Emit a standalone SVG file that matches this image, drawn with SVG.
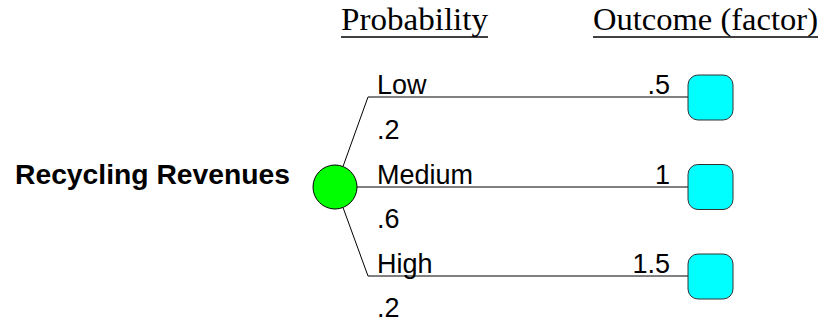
<svg xmlns="http://www.w3.org/2000/svg" width="830" height="321" viewBox="0 0 830 321">
<style>
.hdr{font-family:"Liberation Serif","Times New Roman",serif;font-size:31px;fill:#000}
.lbl{font-family:"Liberation Sans",Arial,sans-serif;font-size:27px;fill:#000}
.title{font-family:"Liberation Sans",Arial,sans-serif;font-size:28px;font-weight:bold;fill:#000}
.ul{stroke:#000;stroke-width:1.5}
.br{fill:none;stroke:#000;stroke-width:1}
.term{fill:#00FFFF;stroke:#333;stroke-width:1}
.chance{fill:#00FF00;stroke:#000;stroke-width:1}
</style>
<rect width="830" height="321" fill="#fff"/>
<g id="headers">
<text class="hdr" x="341" y="30" textLength="147" lengthAdjust="spacingAndGlyphs">Probability</text>
<line class="ul" x1="341" y1="37" x2="488" y2="37"/>
<text class="hdr" x="593" y="30" textLength="225" lengthAdjust="spacingAndGlyphs">Outcome (factor)</text>
<line class="ul" x1="593" y1="37" x2="818" y2="37"/>
</g>
<g id="connectors">
<polyline class="br" points="343,166.5 368,97 688,97"/>
<line class="br" x1="357" y1="187" x2="688" y2="187"/>
<polyline class="br" points="343,207.5 368,276 688,276"/>
</g>
<g id="chance-node">
<text class="title" x="15" y="184" textLength="275" lengthAdjust="spacingAndGlyphs">Recycling Revenues</text>
<circle class="chance" cx="335" cy="187" r="22"/>
</g>
<g id="branch-low">
<text class="lbl" x="377" y="94">Low</text>
<text class="lbl" x="377" y="139">.2</text>
<text class="lbl" x="670" y="94" text-anchor="end">.5</text>
</g>
<g id="branch-medium">
<text class="lbl" x="377" y="184">Medium</text>
<text class="lbl" x="377" y="228">.6</text>
<text class="lbl" x="670" y="184" text-anchor="end">1</text>
</g>
<g id="branch-high">
<text class="lbl" x="377" y="273">High</text>
<text class="lbl" x="377" y="317">.2</text>
<text class="lbl" x="670" y="273" text-anchor="end">1.5</text>
</g>
<g id="term-low"><rect class="term" x="688" y="75" width="45" height="45" rx="10"/></g>
<g id="term-medium"><rect class="term" x="688" y="164.5" width="45" height="45" rx="10"/></g>
<g id="term-high"><rect class="term" x="688" y="254" width="45" height="45" rx="10"/></g>
</svg>
